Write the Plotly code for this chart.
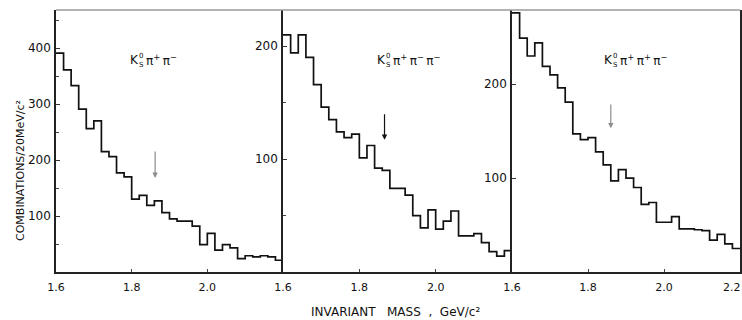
import plotly.graph_objects as go

# ---------------- data ----------------
bin_edges = [round(1.60 + 0.02 * i, 2) for i in range(31)]  # 20 MeV bins, 1.6-2.2 GeV

counts_k0_pip_pim = [391, 361, 333, 291, 256, 270, 215, 206, 177, 170,
                     130, 137, 119, 127, 106, 95, 91, 91, 82, 49,
                     69, 39, 49, 43, 24, 29, 27, 29, 27, 21]
counts_k0_pip_pim_pim = [210, 194, 210, 190, 166, 146, 135, 124, 119, 122,
                         101, 112, 92, 90, 74, 74, 68, 50, 39, 55,
                         38, 45, 54, 32, 32, 34, 26, 18, 14, 19]
counts_k0_pip_pip_pim = [276, 249, 230, 244, 219, 210, 196, 181, 147, 141,
                         143, 128, 114, 97, 109, 100, 90, 72, 74, 53,
                         53, 59, 46, 46, 45, 44, 34, 40, 30, 25]

panel_counts = [counts_k0_pip_pim, counts_k0_pip_pim_pim, counts_k0_pip_pip_pim]
panel_pions = [["+", "−"], ["+", "−", "−"], ["+", "+", "−"]]
y_tops = [468, 232, 279]
y_labelled = [[100, 200, 300, 400], [100, 200], [100, 200]]
x_labelled = [1.6, 1.8, 2.0]
x_ticktext = ["1.6", "1.8", "2.0"]
x_end_label = "2.2"
arrow_mass = [1.862, 1.866, 1.860]
arrow_tail = [218, 141, 180]
arrow_tip = [168, 117, 153]
arrow_colors = ["#8c8c8c", "#111111", "#8c8c8c"]

# ---------------- layout geometry ----------------
W, H = 742, 320
def px(x):
    return x / W
def py(y):
    return 1 - y / H

panel_px = [(56, 283), (283, 512), (512, 740)]
y_dom = [py(272), py(10)]
label_x0 = [129, 376, 603]

font_main = "DejaVu Sans"
ink = "#111111"

fig = go.Figure()
layout = dict(
    width=W, height=H,
    margin=dict(l=0, r=0, t=0, b=0, autoexpand=False),
    paper_bgcolor="white", plot_bgcolor="white",
    showlegend=False,
    font=dict(family=font_main, size=11, color=ink),
)
annotations = []

for i in range(3):
    n = "" if i == 0 else str(i + 1)
    xa, ya = "x" + n, "y" + n
    counts = panel_counts[i]
    fig.add_trace(go.Scatter(
        x=bin_edges, y=counts + [counts[-1]],
        mode="lines", line=dict(shape="hv", color="#111", width=1.7),
        xaxis=xa, yaxis=ya, hoverinfo="skip", cliponaxis=True,
    ))
    layout["xaxis" + n] = dict(
        domain=[px(panel_px[i][0]), px(panel_px[i][1])],
        range=[1.6, 2.2], anchor=ya, automargin=False,
        showgrid=False, zeroline=False,
        showline=True, linecolor="#222", linewidth=1.5,
        tickmode="array", tickvals=x_labelled, ticktext=x_ticktext,
        ticks="inside", ticklen=3, tickcolor="#444",
        ticklabelstandoff=4,
        tickfont=dict(family=font_main, size=11, color=ink),
    )
    layout["yaxis" + n] = dict(
        domain=y_dom, range=[0, y_tops[i]], anchor=xa, automargin=False,
        showgrid=False, zeroline=False,
        showline=True, linecolor="#222", linewidth=1.5,
        mirror=(i == 2),
        tickmode="array", tickvals=y_labelled[i],
        ticks="inside", ticklen=4, tickcolor="#333",
        ticklabelstandoff=1,
        tickfont=dict(family=font_main, size=12, color=ink),
        minor=dict(dtick=50, tick0=0, ticks="inside", ticklen=3, tickcolor="#444") if i < 2 else None,
    )
    # arrow marking the D mass
    annotations.append(dict(
        x=arrow_mass[i], y=arrow_tip[i], ax=arrow_mass[i], ay=arrow_tail[i],
        xref=xa, yref=ya, axref=xa, ayref=ya, text="",
        showarrow=True, arrowhead=2, arrowsize=0.9, arrowwidth=1.2,
        arrowcolor=arrow_colors[i],
    ))
    # channel label  K(0 over S) pi...
    x0 = label_x0[i]
    annotations.append(dict(x=px(x0), y=py(60), xref="paper", yref="paper",
                            text="K", showarrow=False, xanchor="left", yanchor="middle",
                            borderpad=0,
                            font=dict(family=font_main, size=12, color=ink)))
    annotations.append(dict(x=px(x0 + 9), y=py(60), xref="paper", yref="paper",
                            text="0<br>S", showarrow=False, xanchor="left", yanchor="middle",
                            borderpad=0,
                            font=dict(family=font_main, size=7, color=ink)))
    pis = "\u2009".join("π<sup>%s</sup>" % s for s in panel_pions[i])
    annotations.append(dict(x=px(x0 + 16), y=py(60), xref="paper", yref="paper",
                            text=pis, showarrow=False, xanchor="left", yanchor="middle",
                            borderpad=0,
                            font=dict(family=font_main, size=12, color=ink)))

# end-of-range label of the last panel (kept inside the page)
annotations.append(dict(x=1.0, y=py(287), xref="paper", yref="paper",
                        text=x_end_label, showarrow=False, xanchor="right", yanchor="middle",
                        borderpad=0,
                        font=dict(family=font_main, size=11, color=ink)))

# axis titles
annotations.append(dict(x=px(20), y=py(171), xref="paper", yref="paper",
                        text="COMBINATIONS/20MeV/c²", textangle=-90, showarrow=False,
                        xanchor="center", yanchor="middle",
                        font=dict(family=font_main, size=11, color=ink)))
annotations.append(dict(x=px(395), y=py(312), xref="paper", yref="paper",
                        text="INVARIANT\u00a0\u00a0\u00a0MASS\u00a0\u00a0,\u00a0\u00a0GeV/c²",
                        showarrow=False, xanchor="center", yanchor="middle",
                        font=dict(family=font_main, size=12, color=ink)))

layout["annotations"] = annotations
layout["shapes"] = [dict(type="line", xref="paper", yref="paper",
                         x0=px(56), x1=px(740), y0=py(10), y1=py(10),
                         line=dict(color="#9a9a9a", width=1.5))]
fig.update_layout(**layout)
fig.write_html("out.html",
               config={"displayModeBar": False},
               post_script="document.body.style.margin='0px';document.body.style.overflow='hidden';")
